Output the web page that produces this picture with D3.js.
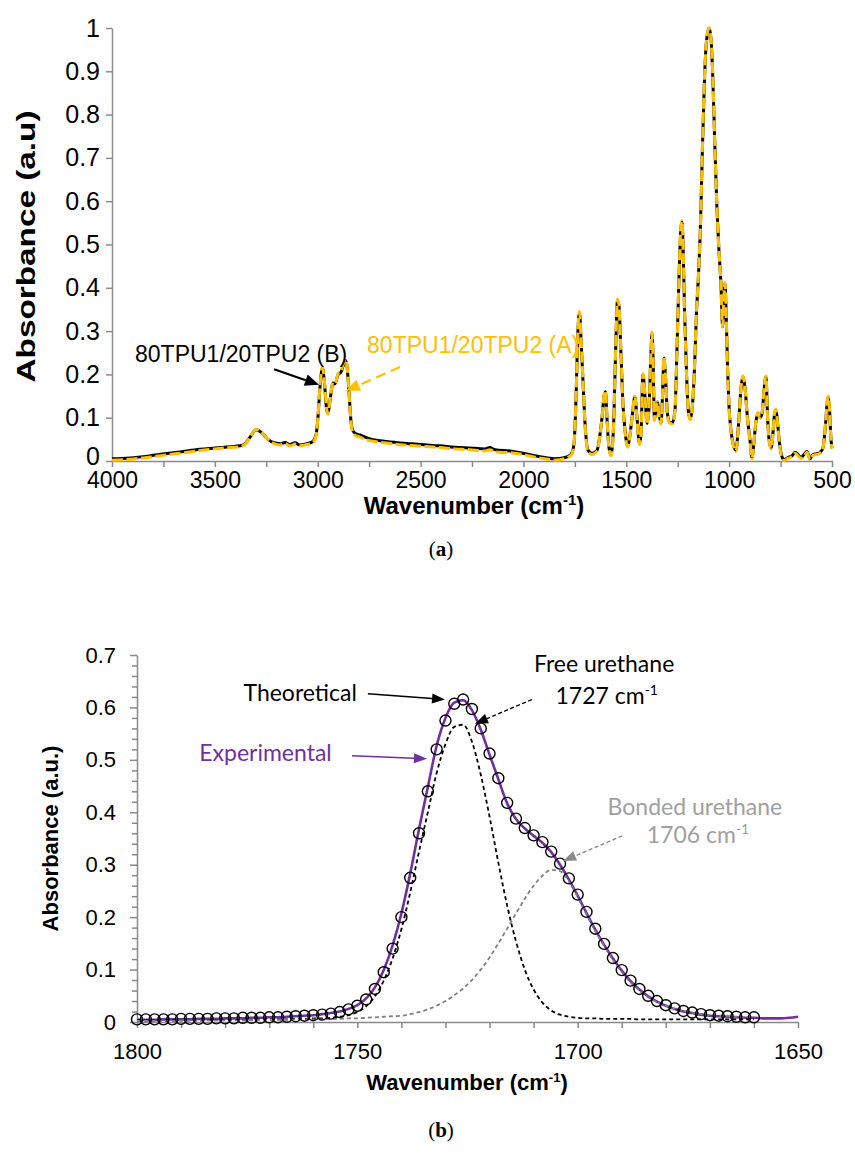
<!DOCTYPE html>
<html><head><meta charset="utf-8">
<script src="https://cdn.jsdelivr.net/npm/d3@7"></script>
<style>body{margin:0;background:#fff} svg{display:block}</style>
</head><body>
<svg id="c" width="855" height="1164"></svg>
<script>
// ---------------- (a) FTIR spectrum ----------------
const specWavenumber = [4000,3912,3815,3752,3669,3572,3499,3426,3378,3353,3329,3300,3271,3242,3212,3183,3159,3135,3110,3086,3052,3023,3008,2999,2989,2977,2967,2957,2950,2940,2926,2916,2901,2887,2873,2865,2858,2848,2838,2829,2814,2794,2770,2736,2697,2624,2551,2498,2406,2333,2260,2187,2163,2138,2065,2002,1944,1895,1847,1798,1769,1754,1744,1735,1727,1720,1710,1701,1686,1667,1642,1628,1618,1608,1601,1594,1584,1574,1562,1552,1543,1536,1526,1516,1506,1494,1482,1472,1458,1448,1436,1429,1419,1409,1399,1390,1380,1375,1370,1363,1356,1348,1341,1331,1324,1317,1310,1300,1290,1276,1263,1254,1244,1234,1229,1224,1217,1207,1197,1188,1178,1168,1159,1149,1139,1130,1120,1110,1098,1088,1079,1069,1059,1050,1040,1032,1025,1020,1015,1008,1001,991,981,967,955,942,933,923,911,899,889,880,870,860,850,840,831,821,813,806,796,786,779,772,765,755,743,733,714,694,680,665,651,636,621,607,592,573,558,544,534,524,519,512,505,500];
// 80TPU1/20TPU2 (B) - black solid
const specB = [0.005,0.007,0.012,0.016,0.021,0.027,0.030,0.033,0.035,0.040,0.055,0.072,0.065,0.050,0.042,0.040,0.043,0.038,0.042,0.037,0.040,0.045,0.060,0.100,0.170,0.215,0.180,0.120,0.110,0.140,0.180,0.178,0.200,0.205,0.225,0.232,0.220,0.160,0.090,0.070,0.063,0.060,0.055,0.050,0.047,0.043,0.040,0.038,0.035,0.032,0.030,0.028,0.031,0.026,0.023,0.018,0.012,0.008,0.005,0.008,0.015,0.040,0.150,0.300,0.342,0.280,0.180,0.090,0.025,0.018,0.025,0.060,0.100,0.150,0.160,0.100,0.030,0.015,0.080,0.250,0.370,0.360,0.250,0.130,0.070,0.035,0.060,0.100,0.148,0.100,0.040,0.060,0.200,0.150,0.087,0.120,0.250,0.295,0.240,0.095,0.120,0.137,0.110,0.087,0.150,0.238,0.200,0.110,0.090,0.088,0.120,0.250,0.420,0.540,0.552,0.500,0.350,0.200,0.110,0.097,0.130,0.220,0.340,0.430,0.550,0.720,0.880,0.970,1.000,0.975,0.880,0.720,0.580,0.490,0.410,0.310,0.380,0.410,0.350,0.220,0.130,0.070,0.040,0.025,0.080,0.170,0.195,0.170,0.100,0.050,0.008,0.040,0.090,0.110,0.100,0.110,0.160,0.195,0.100,0.050,0.030,0.070,0.110,0.118,0.090,0.040,0.010,0.003,0.008,0.012,0.020,0.015,0.008,0.015,0.022,0.005,0.015,0.017,0.020,0.030,0.070,0.130,0.148,0.120,0.050,0.030];
// 80TPU1/20TPU2 (A) - yellow dashed
const specA = [0.002,0.004,0.009,0.013,0.018,0.024,0.028,0.031,0.033,0.039,0.055,0.073,0.066,0.050,0.040,0.037,0.040,0.035,0.039,0.035,0.038,0.043,0.058,0.100,0.172,0.217,0.182,0.122,0.108,0.140,0.182,0.180,0.202,0.208,0.228,0.235,0.222,0.160,0.088,0.066,0.058,0.055,0.050,0.046,0.043,0.039,0.036,0.034,0.031,0.028,0.026,0.023,0.026,0.021,0.019,0.015,0.009,0.005,0.002,0.006,0.013,0.040,0.152,0.302,0.345,0.282,0.180,0.088,0.022,0.015,0.023,0.060,0.100,0.152,0.162,0.100,0.028,0.012,0.080,0.252,0.374,0.362,0.250,0.128,0.068,0.032,0.058,0.100,0.150,0.098,0.038,0.058,0.202,0.150,0.085,0.120,0.252,0.298,0.240,0.093,0.118,0.137,0.108,0.085,0.150,0.240,0.200,0.108,0.088,0.086,0.120,0.252,0.422,0.545,0.555,0.502,0.350,0.198,0.108,0.095,0.130,0.222,0.342,0.432,0.552,0.722,0.882,0.972,1.000,0.976,0.882,0.722,0.580,0.490,0.412,0.310,0.382,0.412,0.350,0.218,0.128,0.068,0.038,0.022,0.080,0.172,0.197,0.170,0.098,0.048,0.005,0.040,0.092,0.112,0.100,0.112,0.162,0.197,0.098,0.048,0.028,0.070,0.112,0.120,0.088,0.038,0.007,0.001,0.006,0.010,0.018,0.012,0.006,0.012,0.020,0.003,0.013,0.015,0.018,0.030,0.072,0.132,0.150,0.120,0.048,0.028];
const topXTicks = [4000,3750,3500,3250,3000,2750,2500,2250,2000,1750,1500,1250,1000,750,500];
const topXLabels = ["4000","","3500","","3000","","2500","","2000","","1500","","1000","","500"];
const topYTicks = [0,0.1,0.2,0.3,0.4,0.5,0.6,0.7,0.8,0.9,1];
const topYLabels = ["0","0.1","0.2","0.3","0.4","0.5","0.6","0.7","0.8","0.9","1"];

// ---------------- (b) carbonyl deconvolution ----------------
const fitWavenumber = [1800,1798,1796,1794,1792,1790,1788,1786,1784,1782,1780,1778,1776,1774,1772,1770,1768,1766,1764,1762,1760,1758,1756,1754,1752,1750,1748,1746,1744,1742,1740,1738,1736,1734,1732,1730,1728,1726,1724,1722,1720,1718,1716,1714,1712,1710,1708,1706,1704,1702,1700,1698,1696,1694,1692,1690,1688,1686,1684,1682,1680,1678,1676,1674,1672,1670,1668,1666,1664,1662,1660];
const theoretical = [0.005,0.005,0.005,0.005,0.005,0.006,0.006,0.006,0.006,0.007,0.007,0.007,0.008,0.008,0.008,0.009,0.009,0.010,0.011,0.012,0.013,0.014,0.016,0.019,0.024,0.031,0.043,0.063,0.095,0.140,0.200,0.275,0.360,0.440,0.520,0.575,0.607,0.615,0.597,0.560,0.512,0.465,0.418,0.388,0.370,0.356,0.343,0.325,0.302,0.274,0.243,0.210,0.178,0.149,0.122,0.099,0.079,0.063,0.050,0.040,0.032,0.026,0.021,0.018,0.015,0.013,0.012,0.011,0.010,0.009,0.009];
const freeUrethane = [0.003,0.003,0.003,0.003,0.003,0.003,0.003,0.003,0.004,0.004,0.004,0.004,0.004,0.004,0.005,0.005,0.005,0.005,0.006,0.006,0.007,0.007,0.008,0.010,0.013,0.019,0.030,0.049,0.079,0.121,0.177,0.247,0.325,0.400,0.475,0.530,0.563,0.567,0.535,0.472,0.392,0.304,0.222,0.154,0.100,0.062,0.037,0.022,0.014,0.010,0.008,0.007,0.007,0.006,0.006,0.006,0.006,0.005,0.005,0.005,0.005,0.005,0.005,0.005,0.005,0.005,0.005,0.005,0.005,0.005,0.005];
const bondedUrethane = [0.002,0.002,0.002,0.002,0.002,0.003,0.003,0.003,0.003,0.003,0.003,0.003,0.003,0.004,0.004,0.004,0.004,0.004,0.005,0.005,0.005,0.005,0.006,0.006,0.007,0.007,0.008,0.009,0.010,0.011,0.012,0.015,0.019,0.024,0.031,0.040,0.051,0.064,0.080,0.100,0.123,0.150,0.178,0.207,0.235,0.260,0.279,0.290,0.288,0.268,0.238,0.205,0.173,0.145,0.118,0.095,0.075,0.060,0.047,0.038,0.031,0.025,0.021,0.018,0.015,0.013,0.012,0.011,0.010,0.009,0.009];
const expWavenumber = [1800,1798,1796,1794,1792,1790,1788,1786,1784,1782,1780,1778,1776,1774,1772,1770,1768,1766,1764,1762,1760,1758,1756,1754,1752,1750,1748,1746,1744,1742,1740,1738,1736,1734,1732,1730,1728,1726,1724,1722,1720,1718,1716,1714,1712,1710,1708,1706,1704,1702,1700,1698,1696,1694,1692,1690,1688,1686,1684,1682,1680,1678,1676,1674,1672,1670,1668,1666,1664,1662,1660,1658,1656,1654,1652,1650];
const experimental = [0.004,0.004,0.004,0.005,0.005,0.005,0.005,0.006,0.006,0.006,0.007,0.007,0.007,0.008,0.008,0.009,0.009,0.010,0.011,0.012,0.013,0.015,0.017,0.020,0.025,0.032,0.045,0.066,0.099,0.146,0.207,0.283,0.368,0.448,0.527,0.580,0.609,0.614,0.595,0.558,0.510,0.463,0.417,0.387,0.369,0.355,0.342,0.324,0.300,0.272,0.241,0.208,0.176,0.147,0.121,0.098,0.078,0.062,0.049,0.039,0.031,0.025,0.020,0.017,0.014,0.012,0.011,0.010,0.009,0.008,0.008,0.007,0.007,0.007,0.008,0.010];
const botXTicks = [1800,1790,1780,1770,1760,1750,1740,1730,1720,1710,1700,1690,1680,1670,1660,1650];
const botXLabels = ["1800","","","","","1750","","","","","1700","","","","","1650"];
const botYMajor = [0,0.1,0.2,0.3,0.4,0.5,0.6,0.7];
const botYLabels = ["0","0.1","0.2","0.3","0.4","0.5","0.6","0.7"];
const botYMinor = [0.02,0.04,0.06,0.08,0.12,0.14,0.16,0.18,0.22,0.24,0.26,0.28,0.32,0.34,0.36,0.38,0.42,0.44,0.46,0.48,0.52,0.54,0.56,0.58,0.62,0.64,0.66,0.68];

const svg = d3.select("#c");
const AX = "#8a8a8a";
const SANS = "'Liberation Sans', Arial, sans-serif";
const CAL = "Lato, 'Open Sans', sans-serif";

function styleAxis(g){
  g.select(".domain").attr("stroke", AX).attr("stroke-width", 1.5);
  g.selectAll(".tick line").attr("stroke", AX).attr("stroke-width", 1.5);
  g.selectAll(".tick text").attr("fill", "#000");
}
function arrow(g, x1, y1, x2, y2, color, dash, sw, hl, hw){
  const a = Math.atan2(y2 - y1, x2 - x1);
  const bx = x2 - hl * Math.cos(a), by = y2 - hl * Math.sin(a);
  g.append("line").attr("x1", x1).attr("y1", y1).attr("x2", bx).attr("y2", by)
    .attr("stroke", color).attr("stroke-width", sw).attr("stroke-dasharray", dash || null);
  const px = -Math.sin(a) * hw / 2, py = Math.cos(a) * hw / 2;
  g.append("path").attr("d", `M${x2},${y2}L${bx+px},${by+py}L${bx-px},${by-py}Z`).attr("fill", color);
}

// ===== chart (a) =====
const xa = d3.scaleLinear().domain([4000, 500]).range([112, 832]);
const ya = d3.scaleLinear().domain([0, 1]).range([461, 28]);
const ga = svg.append("g");

const gax = ga.append("g").attr("transform", "translate(0,461)")
  .call(d3.axisBottom(xa).tickValues(topXTicks).tickSize(6).tickSizeOuter(0).tickPadding(5)
    .tickFormat((d, i) => topXLabels[i]));
gax.attr("font-size", 23).attr("font-family", SANS);
styleAxis(gax);
const gay = ga.append("g").attr("transform", "translate(112,0)")
  .call(d3.axisLeft(ya).tickValues(topYTicks).tickSize(6).tickSizeOuter(0).tickPadding(6)
    .tickFormat((d, i) => topYLabels[i]));
gay.attr("font-size", 25).attr("font-family", SANS);
styleAxis(gay);
gay.selectAll(".tick text").filter((d, i) => i === 0).attr("dy", "0.12em");

const specPtsB = specWavenumber.map((w, i) => [w, specB[i]]);
const specPtsA = specWavenumber.map((w, i) => [w, specA[i]]);
const lineA = d3.line().x(d => xa(d[0])).y(d => ya(d[1])).curve(d3.curveMonotoneX);
ga.append("path").attr("d", lineA(specPtsB)).attr("fill", "none").attr("stroke", "#000").attr("stroke-width", 3).attr("stroke-linejoin", "round");
ga.append("path").attr("d", lineA(specPtsA)).attr("fill", "none").attr("stroke", "#FFC000").attr("stroke-width", 3).attr("stroke-dasharray", "11,3.5").attr("stroke-linejoin", "round");

// annotations (a)
ga.append("text").attr("x", xa(3888)).attr("y", ya(0.229)).attr("font-family", SANS).attr("font-size", 23).attr("fill", "#000").text("80TPU1/20TPU2 (B)");
ga.append("text").attr("x", xa(2760)).attr("y", ya(0.25)).attr("font-family", SANS).attr("font-size", 23).attr("fill", "#FFC000").text("80TPU1/20TPU2 (A)");
arrow(ga, xa(3212), ya(0.212), xa(2994), ya(0.176), "#000", null, 2.2, 14, 12);
arrow(ga, xa(2600), ya(0.217), xa(2863), ya(0.162), "#FFC000", "10,6", 2.2, 14, 12);

// titles (a)
ga.append("text").attr("transform", `translate(35,${(28+461)/2 + 2}) rotate(-90)`).attr("text-anchor", "middle")
  .attr("font-family", SANS).attr("font-weight", "bold").attr("font-size", 25)
  .attr("textLength", 272).attr("lengthAdjust", "spacingAndGlyphs").text("Absorbance (a.u)");
const xt = ga.append("text").attr("x", 474).attr("y", 514).attr("text-anchor", "middle")
  .attr("font-family", SANS).attr("font-weight", "bold").attr("font-size", 24);
xt.append("tspan").text("Wavenumber (cm");
xt.append("tspan").attr("font-size", 15).attr("dy", -9).text("-1");
xt.append("tspan").attr("dy", 9).text(")");
const ca = ga.append("text").attr("x", 441).attr("y", 556).attr("text-anchor", "middle")
  .attr("font-family", "'Liberation Serif', 'DejaVu Serif', serif").attr("font-size", 21);
ca.append("tspan").text("(");
ca.append("tspan").attr("font-weight", "bold").text("a");
ca.append("tspan").text(")");

// ===== chart (b) =====
const xb = d3.scaleLinear().domain([1800, 1650]).range([137, 798]);
const yb = d3.scaleLinear().domain([0, 0.7]).range([1022, 655]);
const gb = svg.append("g");

const gbx = gb.append("g").attr("transform", "translate(0,1022)")
  .call(d3.axisBottom(xb).tickValues(botXTicks).tickSize(6).tickSizeOuter(0).tickPadding(15)
    .tickFormat((d, i) => botXLabels[i]));
gbx.attr("font-size", 22).attr("font-family", SANS);
styleAxis(gbx);
const gby = gb.append("g").attr("transform", "translate(137,0)")
  .call(d3.axisLeft(yb).tickValues(botYMajor).tickSize(7).tickSizeOuter(0).tickPadding(14)
    .tickFormat((d, i) => botYLabels[i]));
gby.attr("font-size", 22).attr("font-family", SANS);
styleAxis(gby);
const gbym = gb.append("g").attr("transform", "translate(137,0)")
  .call(d3.axisLeft(yb).tickValues(botYMinor).tickSize(5).tickSizeOuter(0).tickFormat(""));
gbym.select(".domain").remove();
styleAxis(gbym);

const lineB = d3.line().x(d => xb(d[0])).y(d => yb(d[1])).curve(d3.curveMonotoneX);
const expPts = expWavenumber.map((w, i) => [w, experimental[i]]);
const freePts = fitWavenumber.map((w, i) => [w, freeUrethane[i]]);
const bondPts = fitWavenumber.map((w, i) => [w, bondedUrethane[i]]);
const theoPts = fitWavenumber.map((w, i) => [w, theoretical[i]]);
gb.append("path").attr("d", lineB(expPts)).attr("fill", "none").attr("stroke", "#7030A0").attr("stroke-width", 2.6);
gb.append("path").attr("d", lineB(freePts)).attr("fill", "none").attr("stroke", "#000").attr("stroke-width", 1.8).attr("stroke-dasharray", "4,3");
gb.append("path").attr("d", lineB(bondPts)).attr("fill", "none").attr("stroke", "#808080").attr("stroke-width", 1.8).attr("stroke-dasharray", "4,3");
gb.selectAll("circle.th").data(theoPts).enter().append("circle").attr("class", "th")
  .attr("cx", d => xb(d[0])).attr("cy", d => yb(d[1])).attr("r", 5.5)
  .attr("fill", "none").attr("stroke", "#000").attr("stroke-width", 1.4);

// annotations (b)
gb.append("text").attr("x", xb(1750.1)).attr("y", yb(0.613)).attr("text-anchor", "end").attr("font-family", CAL).attr("font-size", 23).attr("fill", "#000").text("Theoretical");
arrow(gb, xb(1747.6), yb(0.626), xb(1730.1), yb(0.615), "#000", null, 1.5, 13, 10);
gb.append("text").attr("x", xb(1755.8)).attr("y", yb(0.498)).attr("text-anchor", "end").attr("font-family", CAL).attr("font-size", 23).attr("fill", "#7030A0").text("Experimental");
arrow(gb, xb(1751.2), yb(0.508), xb(1734.2), yb(0.502), "#7030A0", null, 1.5, 13, 10);
gb.append("text").attr("x", xb(1694)).attr("y", yb(0.668)).attr("text-anchor", "middle").attr("font-family", CAL).attr("font-size", 23).attr("fill", "#000").text("Free urethane");
const t1 = gb.append("text").attr("x", xb(1693.4)).attr("y", yb(0.607)).attr("text-anchor", "middle").attr("font-family", CAL).attr("font-size", 23).attr("fill", "#000");
t1.append("tspan").text("1727 cm");
t1.append("tspan").attr("font-size", 14).attr("dy", -9).text("-1");
arrow(gb, xb(1710.4), yb(0.615), xb(1723.3), yb(0.569), "#000", "4,2.5", 1.4, 13, 10);
gb.append("text").attr("x", xb(1673.4)).attr("y", yb(0.395)).attr("text-anchor", "middle").attr("font-family", CAL).attr("font-size", 23).attr("fill", "#A0A0A0").text("Bonded urethane");
const t2 = gb.append("text").attr("x", xb(1672.7)).attr("y", yb(0.342)).attr("text-anchor", "middle").attr("font-family", CAL).attr("font-size", 23).attr("fill", "#A0A0A0");
t2.append("tspan").text("1706 cm");
t2.append("tspan").attr("font-size", 14).attr("dy", -9).text("-1");
arrow(gb, xb(1689.9), yb(0.355), xb(1703.3), yb(0.307), "#8a8a8a", "4,2.5", 1.4, 13, 10);

// titles (b)
gb.append("text").attr("transform", `translate(58,${(655+1022)/2}) rotate(-90)`).attr("text-anchor", "middle")
  .attr("font-family", SANS).attr("font-weight", "bold").attr("font-size", 22).text("Absorbance (a.u.)");
const xt2 = gb.append("text").attr("x", 467).attr("y", 1090).attr("text-anchor", "middle")
  .attr("font-family", SANS).attr("font-weight", "bold").attr("font-size", 22);
xt2.append("tspan").text("Wavenumber (cm");
xt2.append("tspan").attr("font-size", 13).attr("dy", -8).text("-1");
xt2.append("tspan").attr("dy", 8).text(")");
const cb = gb.append("text").attr("x", 441).attr("y", 1137).attr("text-anchor", "middle")
  .attr("font-family", "'Liberation Serif', 'DejaVu Serif', serif").attr("font-size", 21);
cb.append("tspan").text("(");
cb.append("tspan").attr("font-weight", "bold").text("b");
cb.append("tspan").text(")");
</script>
</body></html>
